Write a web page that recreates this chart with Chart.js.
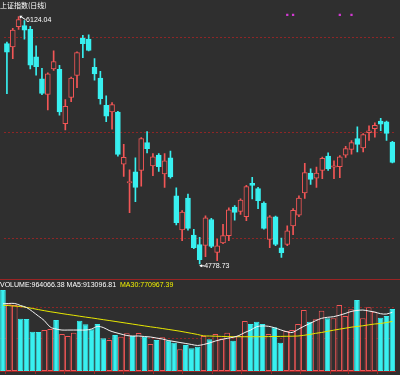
<!DOCTYPE html>
<html>
<head>
<meta charset="utf-8">
<script src="https://cdn.jsdelivr.net/npm/chart.js@4.4.0/dist/chart.umd.min.js"></script>
<style>
  html, body { margin: 0; padding: 0; background: #2f2f2f; }
  #wrap { position: relative; width: 400px; height: 375px; overflow: hidden; }
  #kline { position: absolute; left: 0; top: 0; }
  #vol { position: absolute; left: 0; top: 280px; }
</style>
</head>
<body>
<div id="wrap">
  <canvas id="kline" width="400" height="280"></canvas>
  <canvas id="vol" width="400" height="95"></canvas>
</div>
<script>
// trading days (2007-10-12 .. 2008-01-16)
const dates = ['10-12','10-15','10-16','10-17','10-18','10-19','10-22','10-23','10-24','10-25','10-26',
  '10-29','10-30','10-31','11-01','11-02','11-05','11-06','11-07','11-08','11-09','11-12','11-13','11-14',
  '11-15','11-16','11-19','11-20','11-21','11-22','11-23','11-26','11-27','11-28','11-29','11-30','12-03',
  '12-04','12-05','12-06','12-07','12-10','12-11','12-12','12-13','12-14','12-17','12-18','12-19','12-20',
  '12-21','12-24','12-25','12-26','12-27','12-28','01-02','01-03','01-04','01-07','01-08','01-09','01-10',
  '01-11','01-14','01-15','01-16'];

// daily K line
const open = [5977,5960,6069,6076,6055,5906,5786,5701,5839,5837,
  5542,5684,5804,6007,6002,5848,5790,5641,5606,5604,
  5321,5219,5280,5287,5439,5312,5370,5268,5356,5149,
  4963,5137,4935,4884,4879,5020,4841,4893,4932,5088,
  5064,5035,5217,5188,5110,4912,5035,4866,4884,4985,
  5043,5165,5273,5245,5287,5365,5305,5308,5370,5401,
  5461,5409,5493,5515,5556,5552,5441];
const high = [5986,6060,6124.04,6103,6071,5965,5843,5818,5938,5859,
  5673,5795,5933,6023,6025,5896,5827,5693,5657,5609,
  5429,5291,5355,5466,5498,5379,5379,5379,5393,5192,
  5068,5158,4967,4923,5040,5026,4914,4994,5084,5096,
  5132,5206,5250,5195,5116,5041,5039,4919,4985,5079,
  5149,5326,5296,5305,5360,5383,5339,5368,5418,5450,
  5524,5487,5530,5546,5571,5556,5445];
const low = [5705,5896,6055,6002,5839,5806,5699,5616,5832,5588,
  5508,5662,5737,5901,5938,5779,5648,5552,5512,5365,
  5255,5057,5117,5202,5383,5259,5282,5194,5245,4990,
  4905,4962,4861,4778.73,4817,4866,4796,4888,4905,5016,
  5048,5013,5132,5079,4967,4866,4877,4813,4877,4937,
  5036,5135,5211,5194,5242,5287,5242,5247,5358,5376,
  5388,5388,5450,5468,5503,5450,5328];
const close = [5931,6051,6108,6051,5860,5852,5706,5813,5880,5606,
  5636,5790,5928,5977,5940,5813,5678,5583,5645,5374,
  5358,5227,5194,5461,5406,5361,5308,5339,5252,5003,
  5061,4972,4866,4801,5029,4873,4877,4932,5073,5059,
  5125,5199,5206,5123,4972,5035,4884,4840,4958,5070,
  5137,5275,5238,5273,5353,5295,5312,5361,5406,5438,
  5429,5482,5503,5533,5539,5489,5330];

// volume and its moving averages
const volume = [1259000,1037000,1026000,813000,808000,611000,606000,637000,653000,793000,
  575000,544000,596000,782000,726000,648000,731000,508000,482000,560000,
  533000,586000,544000,590000,533000,420000,482000,524000,471000,440000,
  337000,404000,353000,378000,544000,493000,575000,493000,596000,471000,
  544000,777000,731000,767000,731000,575000,680000,440000,622000,637000,
  731000,948000,767000,804000,938000,819000,819000,1026000,855000,959000,
  1104000,819000,990000,922000,829000,855000,964066.38];
const ma5 = [1046000,1050000,1050000,1018000,987000,925000,855000,785000,684000,653000,
  637000,637000,637000,637000,637000,653000,692000,676000,630000,599000,
  575000,552000,544000,544000,536000,529000,513000,498000,474000,459000,
  443000,428000,412000,397000,412000,435000,466000,490000,508000,524000,
  552000,599000,637000,689000,700000,695000,673000,642000,613000,599000,
  645000,695000,739000,782000,819000,835000,844000,866000,894000,925000,
  941000,948000,933000,917000,891000,886000,913096.81];
const ma30 = [1023000,1017000,1009000,1003000,989000,973000,955000,938000,922000,908000,
  893000,879000,866000,852000,838000,826000,812000,798000,785000,771000,
  757000,743000,729000,715000,701000,687000,675000,661000,647000,633000,
  619000,602000,585000,568000,547000,544000,541000,538000,535000,533000,
  533000,533000,533000,533000,533000,535000,536000,538000,540000,541000,
  544000,555000,568000,586000,599000,617000,634000,650000,665000,681000,
  692000,703000,718000,731000,739000,753000,770967.39];

// grid levels, axis ranges, event markers, week starts
const priceGrid = [4914, 5492, 6013];
const priceRange = [4712.4, 6193.0];
const volGrid = [513000, 995000];
const volRange = [0, 1415000];
const markerDays = [48, 49, 57, 59];
const weekStarts = [1, 6, 11, 16, 21, 26, 31, 36, 41, 46, 51, 56, 59, 64];

const title = '上证指数(日线)';
const upColor = '#f25656';
const downColor = '#38f0f0';
const bgColor = '#2f2f2f';
const gridRed = '#8e2626';
const axisRed = '#9a2424';
const latinFont = '7px "Liberation Sans", Arial, sans-serif';

const isUp = close.map((c, i) => c >= open[i]);
const candleColor = isUp.map(u => (u ? upColor : downColor));
const bodyFill = isUp.map(u => (u ? bgColor : downColor));
const maxHigh = Math.max(...high);
const markerData = dates.map((d, i) => (markerDays.includes(i) ? maxHigh + 10 : null));

// labels on top of the K line panel
const klineText = {
  id: 'klineText',
  afterDatasetsDraw(chart) {
    const { ctx, scales: { x, y } } = chart;
    const iH = high.indexOf(maxHigh);
    const minLow = Math.min(...low);
    const iL = low.indexOf(minLow);
    ctx.save();
    ctx.fillStyle = '#ffffff';
    ctx.strokeStyle = '#ffffff';
    ctx.lineWidth = 1;
    ctx.textBaseline = 'middle';
    ctx.font = '7px "Noto Sans CJK SC", sans-serif';
    ctx.fillText(title, 0, 5);

    ctx.font = latinFont;
    // highest point
    const hx = x.getPixelForValue(iH), hy = y.getPixelForValue(maxHigh);
    ctx.beginPath();
    ctx.moveTo(hx + 7, hy + 3);
    ctx.lineTo(hx + 1.5, hy - 0.5);
    ctx.stroke();
    ctx.beginPath();
    ctx.moveTo(hx + 1, hy - 1);
    ctx.lineTo(hx + 4, hy - 1);
    ctx.lineTo(hx + 1.5, hy + 2);
    ctx.closePath();
    ctx.fill();
    ctx.fillText(maxHigh.toFixed(2), hx + 7.5, hy + 3);
    // lowest point
    const lx = x.getPixelForValue(iL), ly = y.getPixelForValue(minLow);
    ctx.beginPath();
    ctx.moveTo(lx + 0.5, ly + 2);
    ctx.lineTo(lx + 5, ly + 2);
    ctx.stroke();
    ctx.beginPath();
    ctx.moveTo(lx - 0.5, ly + 2);
    ctx.lineTo(lx + 2.5, ly + 0.5);
    ctx.lineTo(lx + 2.5, ly + 3.5);
    ctx.closePath();
    ctx.fill();
    ctx.fillText(minLow.toFixed(2), lx + 4.5, ly + 2);

    // panel separator
    ctx.strokeStyle = axisRed;
    ctx.beginPath();
    ctx.moveTo(0, chart.height - 0.5);
    ctx.lineTo(chart.width, chart.height - 0.5);
    ctx.stroke();
    ctx.restore();
  }
};

new Chart(document.getElementById('kline').getContext('2d'), {
  type: 'bar',
  data: {
    labels: dates,
    datasets: [
      {
        type: 'line',
        data: markerData,
        showLine: false,
        pointStyle: 'rect',
        pointRadius: 1.6,
        pointBackgroundColor: '#d23ad2',
        pointBorderColor: '#d23ad2',
        pointBorderWidth: 0
      },
      {
        data: open.map((o, i) => [o, close[i]]),
        backgroundColor: bodyFill,
        borderColor: candleColor,
        borderWidth: 1,
        borderSkipped: false,
        barThickness: 5,
        grouped: false
      },
      {
        data: low.map((l, i) => [l, high[i]]),
        backgroundColor: candleColor,
        borderWidth: 0,
        barThickness: 1,
        grouped: false
      }
    ]
  },
  options: {
    responsive: false,
    animation: false,
    layout: { padding: { left: 0, right: 4.7, top: 0, bottom: 1 } },
    plugins: { legend: { display: false }, tooltip: { enabled: false } },
    scales: {
      x: { display: false },
      y: {
        min: priceRange[0],
        max: priceRange[1],
        ticks: { display: false },
        grid: { color: gridRed, lineWidth: 1, drawTicks: false },
        border: { display: false, dash: [2, 2] },
        afterBuildTicks: (s) => { s.ticks = priceGrid.map(v => ({ value: v })); }
      }
    }
  },
  plugins: [klineText]
});

// volume panel header
const volText = {
  id: 'volText',
  afterDatasetsDraw(chart) {
    const { ctx } = chart;
    const last = volume.length - 1;
    const parts = [
      ['VOLUME:' + volume[last].toFixed(2), '#ffffff', 2],
      ['MA5:' + ma5[last].toFixed(2), '#ffffff', 4],
      ['MA30:' + ma30[last].toFixed(2), '#f2f200', 0]
    ];
    ctx.save();
    ctx.font = latinFont;
    ctx.textBaseline = 'middle';
    let px = 0;
    parts.forEach(([t, c, gap]) => {
      ctx.fillStyle = c;
      ctx.fillText(t, px, 4.8);
      px += ctx.measureText(t).width + gap;
    });
    ctx.restore();
  }
};

new Chart(document.getElementById('vol').getContext('2d'), {
  type: 'bar',
  data: {
    labels: dates,
    datasets: [
      {
        type: 'line',
        data: ma5,
        borderColor: '#f4f4f4',
        borderWidth: 1,
        pointRadius: 0,
        tension: 0.35
      },
      {
        type: 'line',
        data: ma30,
        borderColor: '#e8e800',
        borderWidth: 1,
        pointRadius: 0,
        tension: 0.35
      },
      {
        data: volume,
        backgroundColor: bodyFill,
        borderColor: candleColor,
        borderWidth: 1,
        borderSkipped: false,
        barPercentage: 0.95,
        categoryPercentage: 1
      }
    ]
  },
  options: {
    responsive: false,
    animation: false,
    layout: { padding: { left: 0, right: 4.7, top: 0, bottom: 1 } },
    plugins: { legend: { display: false }, tooltip: { enabled: false } },
    scales: {
      x: {
        ticks: { display: false },
        grid: {
          drawOnChartArea: false,
          drawTicks: true,
          tickLength: 3,
          color: (c) => (weekStarts.includes(c.index) ? axisRed : 'rgba(0,0,0,0)')
        },
        border: { display: true, color: axisRed, width: 1 }
      },
      y: {
        min: volRange[0],
        max: volRange[1],
        ticks: { display: false },
        grid: { color: gridRed, lineWidth: 1, drawTicks: false },
        border: { display: false, dash: [2, 2] },
        afterBuildTicks: (s) => { s.ticks = volGrid.map(v => ({ value: v })); }
      }
    }
  },
  plugins: [volText]
});
</script>
</body>
</html>
